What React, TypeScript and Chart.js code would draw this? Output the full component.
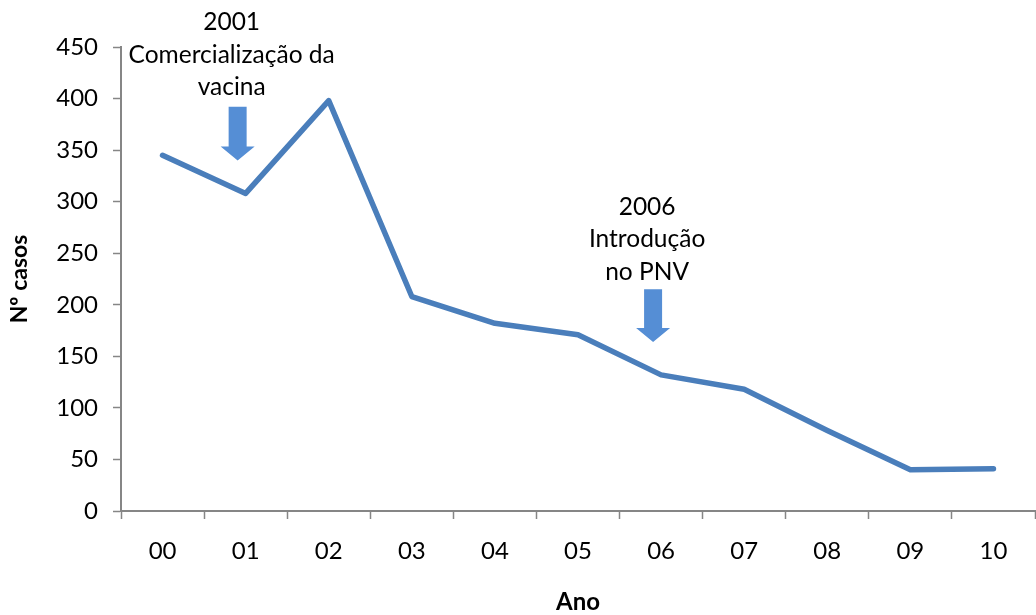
import React, { useEffect, useRef } from "react";
import { Chart, registerables } from "chart.js";

Chart.register(...registerables);

const categories = ["00", "01", "02", "03", "04", "05", "06", "07", "08", "09", "10"];
const casos = [345, 308, 398, 208, 182, 171, 132, 118, 78, 40, 41];
const yTicks = [0, 50, 100, 150, 200, 250, 300, 350, 400, 450];

const annotationIndex = [1, 6];
const annotationLines = [
  ["2001", "Comercialização da", "vacina"],
  ["2006", "Introdução", "no PNV"],
];
const annotationTextTop = [474, 295];
const arrowTop = [392, 215];
const arrowBottom = [340, 164];

const FONT = "Lato, 'Open Sans', sans-serif";

const annotationPlugin = {
  id: "annotations",
  afterDatasetsDraw(chart: any) {
    const { ctx, scales } = chart;
    const x = scales.x;
    const y = scales.y;
    ctx.save();
    for (let i = 0; i < annotationIndex.length; i++) {
      const cx = x.getPixelForValue(annotationIndex[i]) - 8;
      ctx.fillStyle = "#000000";
      ctx.font = `24.5px ${FONT}`;
      ctx.textAlign = "center";
      ctx.textBaseline = "middle";
      const top = y.getPixelForValue(annotationTextTop[i]);
      annotationLines[i].forEach((line, k) => {
        ctx.fillText(line, cx - 6, top + k * 32.5);
      });
      const yt = y.getPixelForValue(arrowTop[i]);
      const yb = y.getPixelForValue(arrowBottom[i]);
      const shaft = 9;
      const head = 17;
      const headH = 14;
      ctx.fillStyle = "#558ED5";
      ctx.beginPath();
      ctx.moveTo(cx - shaft, yt);
      ctx.lineTo(cx + shaft, yt);
      ctx.lineTo(cx + shaft, yb - headH);
      ctx.lineTo(cx + head, yb - headH);
      ctx.lineTo(cx, yb);
      ctx.lineTo(cx - head, yb - headH);
      ctx.lineTo(cx - shaft, yb - headH);
      ctx.closePath();
      ctx.fill();
    }
    ctx.restore();
  },
};

export default function App() {
  const ref = useRef<HTMLCanvasElement | null>(null);
  useEffect(() => {
    document.body.style.margin = "0";
    const chart = new Chart(ref.current as HTMLCanvasElement, {
      type: "line",
      data: {
        labels: categories,
        datasets: [
          {
            data: casos,
            borderColor: "#4A7EBB",
            borderWidth: 5.5,
            pointRadius: 0,
            tension: 0,
            fill: false,
            borderJoinStyle: "round",
            borderCapStyle: "round",
          },
        ],
      },
      options: {
        animation: false,
        responsive: false,
        maintainAspectRatio: false,
        layout: { padding: { top: 47, right: 1, left: 0, bottom: 0 } },
        plugins: { legend: { display: false }, tooltip: { enabled: false } },
        scales: {
          x: {
            type: "category",
            offset: true,
            afterFit: (s: any) => {
              s.height = 104;
            },
            grid: {
              display: true,
              offset: true,
              drawOnChartArea: false,
              drawTicks: true,
              tickLength: 8,
              tickColor: "#868686",
              tickWidth: 1.5,
            },
            border: { display: true, color: "#868686", width: 2 },
            ticks: { color: "#000", font: { family: FONT, size: 24 }, padding: 18 },
            title: {
              display: true,
              text: "Ano",
              color: "#000",
              font: { family: FONT, size: 24, weight: "bold" },
              padding: { top: 0, bottom: -2 },
            },
          },
          y: {
            min: 0,
            max: 450,
            afterFit: (s: any) => {
              s.width = 121;
            },
            afterBuildTicks: (s: any) => {
              s.ticks = yTicks.map((v) => ({ value: v }));
            },
            grid: {
              display: true,
              drawOnChartArea: false,
              drawTicks: true,
              tickLength: 8,
              tickColor: "#868686",
              tickWidth: 1.5,
            },
            border: { display: true, color: "#868686", width: 2 },
            ticks: { color: "#000", font: { family: FONT, size: 24 }, padding: 15 },
            title: {
              display: true,
              text: "Nº casos",
              color: "#000",
              font: { family: FONT, size: 23, weight: "bold" },
              padding: { top: 6, bottom: 0 },
            },
          },
        },
      },
      plugins: [annotationPlugin],
    });
    return () => chart.destroy();
  }, []);
  return (
    <div style={{ position: "fixed", left: 0, top: 0, width: 1036, height: 615 }}>
      <canvas ref={ref} width={1036} height={615} style={{ width: 1036, height: 615 }} />
    </div>
  );
}
